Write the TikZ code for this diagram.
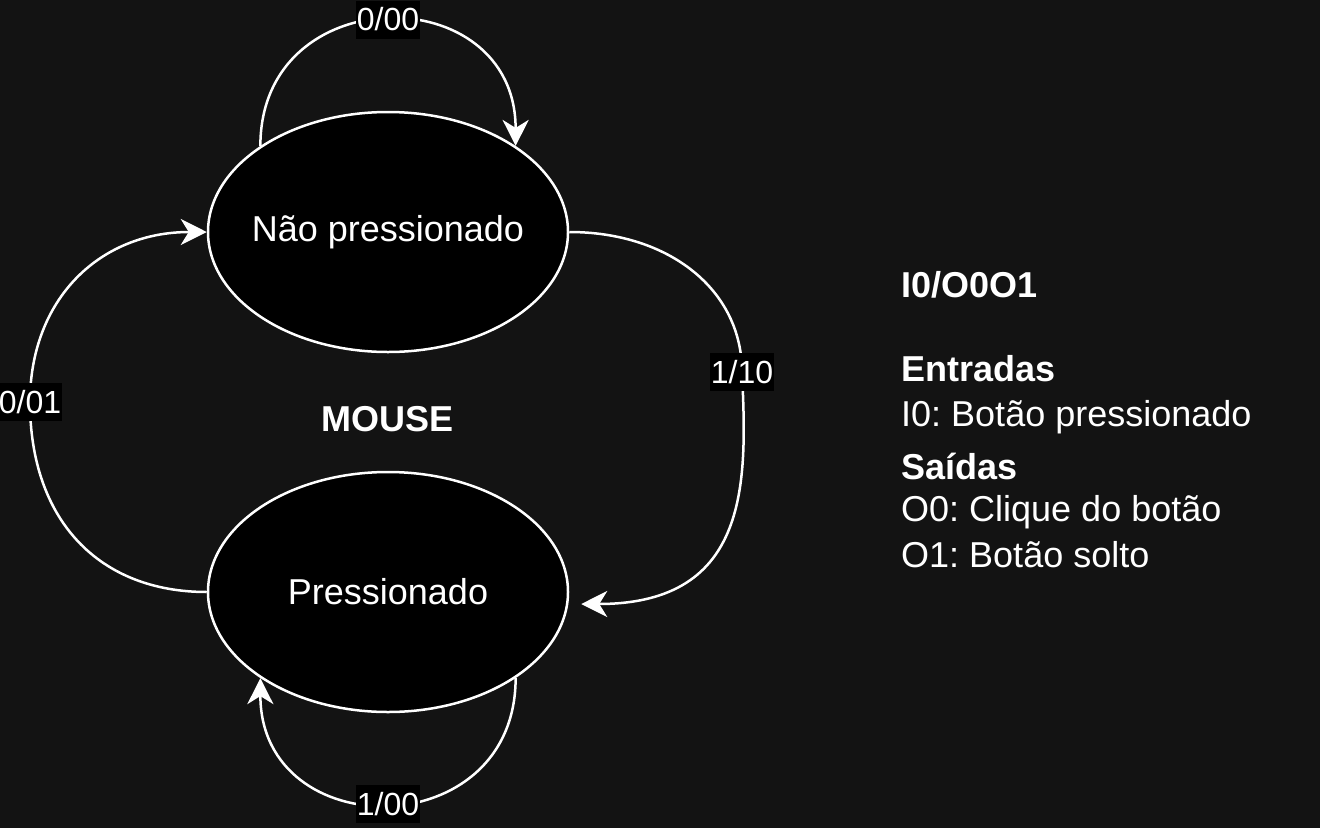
\documentclass[tikz,border=0pt]{standalone}
\usepackage{fontspec}
\setmainfont{Liberation Sans}
\frenchspacing
\usetikzlibrary{arrows.meta,shapes.geometric}
\definecolor{fundo}{HTML}{131313}
\begin{document}
\begin{tikzpicture}[x=1pt,y=-1pt,
	estado/.style={ellipse,draw=white,fill=black,line width=2.5pt,minimum width=360pt,minimum height=240pt,inner sep=0pt,text=white,font=\fontsize{36}{43}\selectfont},
	rotulo/.style={fill=black,text=white,inner xsep=1pt,inner ysep=4pt,text height=26pt,text depth=4pt,font=\fontsize{32}{38}\selectfont},
	seta/.style={draw=white,line width=2.5pt,-{Stealth[length=26pt,width=26pt,inset=8pt]}},
	legenda/.style={anchor=base west,inner sep=0pt,text=white,font=\fontsize{36}{43}\selectfont}]
	\fill [fundo] (0,0) rectangle (1320,828);
	\useasboundingbox (0,0) rectangle (1320,828);
	\node [estado] (naopress) at (388,232) {\makebox[0pt]{Não pressionado}};
	\node [estado] (press) at (388,592) {\makebox[0pt]{Pressionado}};
	\node [text=white, font=\fontsize{36}{43}\selectfont\bfseries] (titulo) at (388,419) {MOUSE};
	\draw [seta] (naopress.146.5) .. controls +(0,-168) and +(0,-168) .. (naopress.34) node [rotulo, pos=0.5] {0/00};
	\draw [seta] (naopress.east) .. controls +(100,0) and +(0,-82) .. (742,372) node [rotulo] {1/10}
		.. controls +(5,108) and +(170,0) .. ([xshift=12pt,yshift=-12pt]press.east);
	\draw [seta] (press.west) .. controls +(-108,0) and +(0,118) .. (30,402) node [rotulo] {0/01}
		.. controls +(0,-102) and +(-108,0) .. (naopress.west);
	\draw [seta] (press.-34) .. controls +(0,168) and +(0,168) .. (press.214) node [rotulo, pos=0.5] {1/00};
	\node [legenda, font=\fontsize{36}{43}\selectfont\bfseries] (codigo) at (901,297) {I0/O0O1};
	\node [legenda, font=\fontsize{36}{43}\selectfont\bfseries] (entradas) at (901,381) {Entradas};
	\node [legenda] (i0) at (901,426) {I0: Botão pressionado};
	\node [legenda, font=\fontsize{36}{43}\selectfont\bfseries] (saidas) at (901,479) {Saídas};
	\node [legenda] (o0) at (901,521) {O0: Clique do botão};
	\node [legenda] (o1) at (901,567) {O1: Botão solto};
\end{tikzpicture}
\end{document}
